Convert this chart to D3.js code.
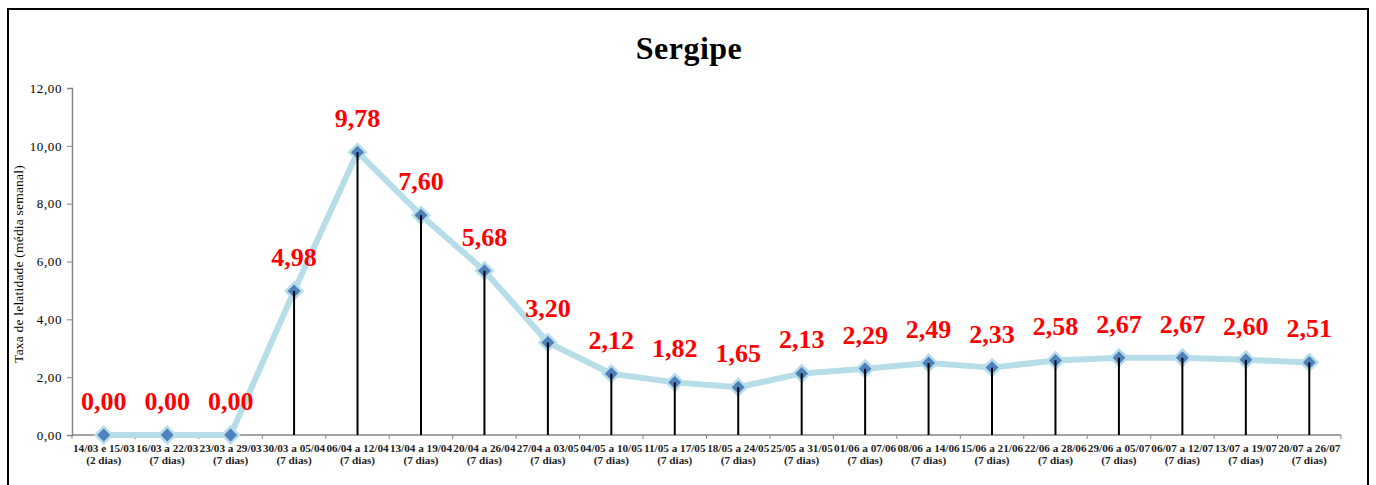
<!DOCTYPE html>
<html>
<head>
<meta charset="utf-8">
<script src="https://cdn.jsdelivr.net/npm/d3@7"></script>
<style>
  body { margin: 0; background: #fff; }
  svg { display: block; font-family: "Liberation Serif", "DejaVu Serif", serif; }
</style>
</head>
<body>
<svg width="1376" height="485"></svg>
<script>
var periods = ["14/03 e 15/03", "16/03 a 22/03", "23/03 a 29/03", "30/03 a 05/04", "06/04 a 12/04",
    "13/04 a 19/04", "20/04 a 26/04", "27/04 a 03/05", "04/05 a 10/05", "11/05 a 17/05",
    "18/05 a 24/05", "25/05 a 31/05", "01/06 a 07/06", "08/06 a 14/06", "15/06 a 21/06",
    "22/06 a 28/06", "29/06 a 05/07", "06/07 a 12/07", "13/07 a 19/07", "20/07 a 26/07"];
var days = ["(2 dias)", "(7 dias)", "(7 dias)", "(7 dias)", "(7 dias)", "(7 dias)", "(7 dias)",
    "(7 dias)", "(7 dias)", "(7 dias)", "(7 dias)", "(7 dias)", "(7 dias)", "(7 dias)",
    "(7 dias)", "(7 dias)", "(7 dias)", "(7 dias)", "(7 dias)", "(7 dias)"];
var values = [0.00, 0.00, 0.00, 4.98, 9.78, 7.60, 5.68, 3.20, 2.12, 1.82,
    1.65, 2.13, 2.29, 2.49, 2.33, 2.58, 2.67, 2.67, 2.60, 2.51];
var yTicks = [0, 2, 4, 6, 8, 10, 12];

var fmt = function (v) { return v.toFixed(2).replace('.', ','); };

var svg = d3.select('svg');

// moldura
svg.append('rect')
    .attr('x', 8).attr('y', 9)
    .attr('width', 1360).attr('height', 490)
    .attr('fill', 'none')
    .attr('stroke', '#000')
    .attr('stroke-width', 2);

svg.append('text')
    .attr('x', 689).attr('y', 59)
    .attr('text-anchor', 'middle')
    .attr('font-size', 32)
    .attr('font-weight', 'bold')
    .attr('letter-spacing', 0.5)
    .text('Sergipe');

var x = d3.scaleBand()
    .domain(periods)
    .range([72, 1341]);

var y = d3.scaleLinear()
    .domain([0, 12])
    .range([435, 88]);

var cx = function (d, i) { return x(periods[i]) + x.bandwidth() / 2; };

// eixo y
var yAxis = svg.append('g')
    .attr('transform', 'translate(72,0)')
    .call(d3.axisLeft(y).tickValues(yTicks).tickFormat(fmt).tickSizeOuter(0).tickSize(5));
yAxis.select('.domain').attr('stroke', '#868686').attr('stroke-width', 1.5);
yAxis.selectAll('.tick line').attr('stroke', '#868686');
yAxis.selectAll('.tick text')
    .attr('font-size', 13)
    .attr('letter-spacing', 0.6)
    .attr('font-family', '"Liberation Serif", serif')
    .attr('fill', '#000')
    .attr('x', -10);

svg.append('text')
    .attr('transform', 'translate(23,264) rotate(-90)')
    .attr('text-anchor', 'middle')
    .attr('font-size', 13.5)
    .attr('letter-spacing', 0.2)
    .text('Taxa de lelatidade (média semanal)');

// eixo x
var xAxis = svg.append('g')
    .attr('transform', 'translate(0,435)');
xAxis.append('line')
    .attr('x1', 72).attr('x2', 1341)
    .attr('stroke', '#868686').attr('stroke-width', 1.5);
xAxis.selectAll('line.tk')
    .data(periods.concat(['end']))
    .enter()
    .append('line')
    .attr('class', 'tk')
    .attr('x1', function (d, i) { return 72 + i * x.step(); })
    .attr('x2', function (d, i) { return 72 + i * x.step(); })
    .attr('y1', 0).attr('y2', 4)
    .attr('stroke', '#868686');

var labels = svg.append('g')
    .selectAll('text')
    .data(periods)
    .enter()
    .append('text')
    .attr('text-anchor', 'middle')
    .attr('font-size', 11.2)
    .attr('font-weight', 'bold')
    .attr('fill', '#222');
labels.append('tspan')
    .attr('x', function (d, i) { return cx(d, i); })
    .attr('y', 452)
    .text(function (d) { return d; });
labels.append('tspan')
    .attr('x', function (d, i) { return cx(d, i); })
    .attr('y', 464)
    .text(function (d, i) { return days[i]; });

// linha
var line = d3.line()
    .x(function (d, i) { return cx(d, i); })
    .y(function (d) { return y(d); });

svg.append('path')
    .datum(values)
    .attr('d', line)
    .attr('fill', 'none')
    .attr('stroke', '#b7dde8')
    .attr('stroke-width', 6)
    .attr('stroke-linejoin', 'round');

// marcadores
svg.append('g')
    .selectAll('path')
    .data(values)
    .enter()
    .append('path')
    .attr('d', d3.symbol().type(d3.symbolSquare).size(135))
    .attr('transform', function (d, i) { return 'translate(' + cx(d, i) + ',' + y(d) + ') rotate(45)'; })
    .attr('fill', '#4f81bd')
    .attr('stroke', '#b7dde8')
    .attr('stroke-width', 2.5);

// linhas de queda
svg.append('g')
    .selectAll('line')
    .data(values)
    .enter()
    .append('line')
    .attr('x1', cx).attr('x2', cx)
    .attr('y1', function (d) { return y(d); })
    .attr('y2', 435)
    .attr('stroke', '#000')
    .attr('stroke-width', 2);

// rótulos
svg.append('g')
    .selectAll('text')
    .data(values)
    .enter()
    .append('text')
    .attr('x', cx)
    .attr('y', function (d) { return y(d) - 25; })
    .attr('text-anchor', 'middle')
    .attr('font-size', 26)
    .attr('font-weight', 'bold')
    .attr('fill', '#ff0000')
    .text(fmt);
</script>
</body>
</html>
